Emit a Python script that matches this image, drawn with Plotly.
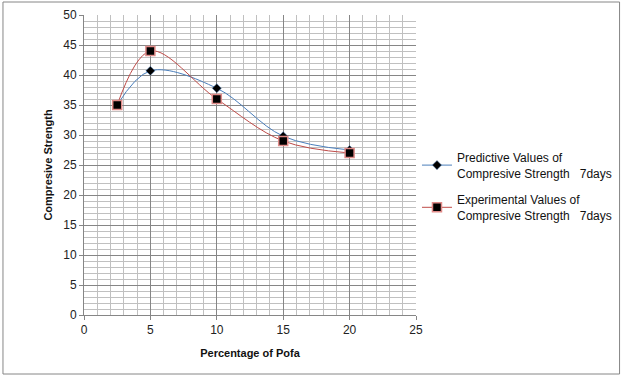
import plotly.graph_objects as go

x_vals = [2.5, 5, 10, 15, 20]
predictive = [35, 40.7, 37.8, 29.8, 27.5]
experimental = [35, 44, 36, 29, 27]

L, R, T, B = 84, 420, 15, 315
W, H = 629, 377
pw, ph = R - L, B - T

fig = go.Figure()
fig.add_trace(go.Scatter(
    x=x_vals, y=predictive, mode="lines+markers", legendgroup="p",
    name="Predictive Values of<br>Compresive Strength   7days",
    line=dict(color="#4a7ebb", width=1, shape="spline", smoothing=1.0),
    marker=dict(symbol="diamond", size=7, color="black", line=dict(color="#4a7ebb", width=0.5)),
))
fig.add_trace(go.Scatter(
    x=x_vals, y=experimental, mode="lines+markers", legendgroup="e",
    name="Experimental Values of<br>Compresive Strength   7days",
    line=dict(color="#be4b48", width=1, shape="spline", smoothing=1.0),
    marker=dict(symbol="square", size=9, color="black", line=dict(color="#e08a88", width=1.5)),
))

axis_common = dict(
    showline=True, linecolor="#868686", linewidth=1,
    ticks="outside", ticklen=4, tickcolor="#868686",
    showgrid=True, gridcolor="#868686", gridwidth=1,
    zeroline=False, mirror=False, automargin=False,
    tickfont=dict(family="Liberation Sans, Arial", size=12, color="#222"),
)
fig.update_xaxes(range=[0, 25], dtick=5,
                 minor=dict(dtick=1, showgrid=True, gridcolor="#c0c0c0", gridwidth=1),
                 title=dict(text="Percentage of Pofa", font=dict(family="Liberation Sans, Arial", size=11, color="#111"), standoff=12),
                 **axis_common)
fig.update_yaxes(range=[0, 50], dtick=5,
                 minor=dict(dtick=1, showgrid=True, gridcolor="#c0c0c0", gridwidth=1),
                 title=dict(text="Compresive Strength", font=dict(family="Liberation Sans, Arial", size=11, color="#111"), standoff=8),
                 **axis_common)

fig.add_shape(type="rect", xref="paper", yref="paper",
              x0=(2 - L) / pw, x1=(626 - L) / pw,
              y0=(B - 374) / ph, y1=(B - 2) / ph,
              line=dict(color="#868686", width=1), fillcolor="rgba(0,0,0,0)", layer="below")

fig.update_layout(
    width=W, height=H, autosize=False,
    margin=dict(l=L, r=W - R, t=T, b=H - B),
    paper_bgcolor="white", plot_bgcolor="white",
    showlegend=True,
    legend=dict(x=(421 - L) / pw, y=(B - 143) / ph, xanchor="left", yanchor="top",
                font=dict(family="Liberation Sans, Arial", size=12, color="#111"),
                tracegroupgap=8, itemwidth=30, bgcolor="rgba(0,0,0,0)"),
    font=dict(family="Liberation Sans, Arial", size=11),
)
fig.update_layout(xaxis_title_font_weight="bold", yaxis_title_font_weight="bold")

fig.write_html("out.html", config={"displayModeBar": False, "responsive": False},
               post_script="document.body.style.margin='0';document.body.style.overflow='hidden';")
